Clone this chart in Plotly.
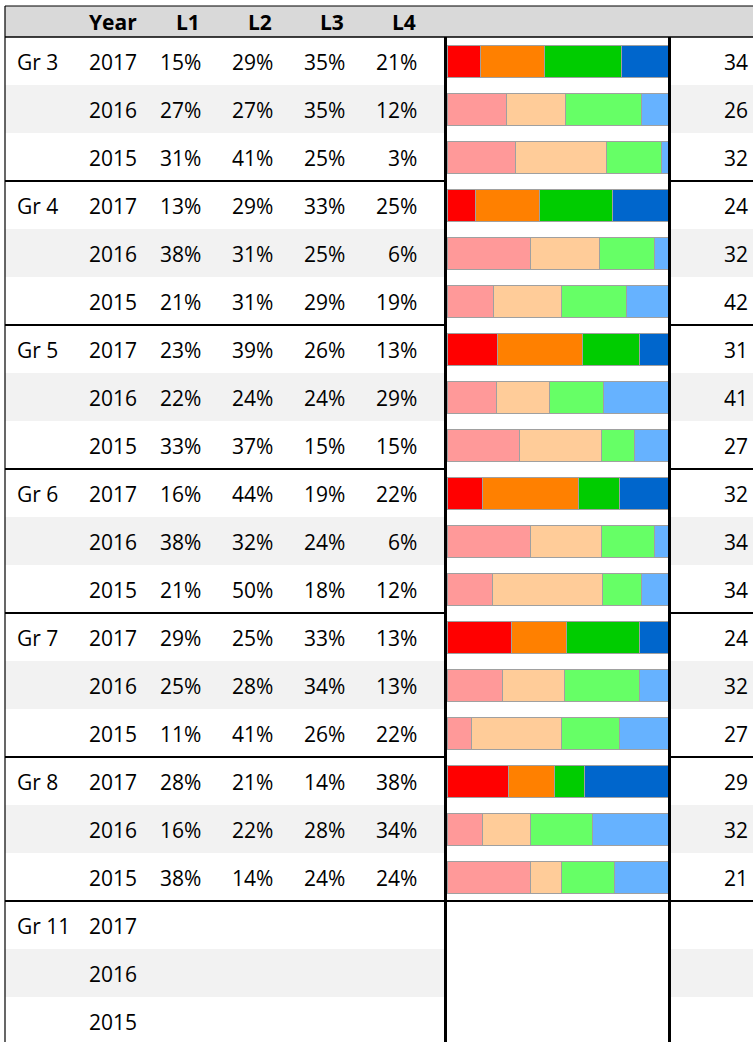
import plotly.graph_objects as go

# ---------------- data ----------------
groups = ["Gr 3", "Gr 4", "Gr 5", "Gr 6", "Gr 7", "Gr 8", "Gr 11"]
years = ["2017", "2016", "2015"]
levels = ["L1", "L2", "L3", "L4"]

L1 = [15, 27, 31, 13, 38, 21, 23, 22, 33, 16, 38, 21, 29, 25, 11, 28, 16, 38, None, None, None]
L2 = [29, 27, 41, 29, 31, 31, 39, 24, 37, 44, 32, 50, 25, 28, 41, 21, 22, 14, None, None, None]
L3 = [35, 35, 25, 33, 25, 29, 26, 24, 15, 19, 24, 18, 33, 34, 26, 14, 28, 24, None, None, None]
L4 = [21, 12, 3, 25, 6, 19, 13, 29, 15, 22, 6, 12, 13, 13, 22, 38, 34, 24, None, None, None]
counts = [34, 26, 32, 24, 32, 42, 31, 41, 27, 32, 34, 34, 24, 32, 27, 29, 32, 21, None, None, None]

bright = ["#FF0000", "#FF8000", "#00CC00", "#0066CC"]
pale = ["#FF9999", "#FFCC99", "#66FF66", "#66B2FF"]

# ---------------- geometry (pixels) ----------------
W, H = 753, 1042
HEAD_TOP, HEAD_BOT = 6, 37
ROW_H = 48
COL_L, COL_R = 445, 669
BAR_L, BAR_R = 447, 668
FONT = "Open Sans"
FS = 21
FS_HEAD = 21


def X(px):
    return px / W


def Y(py):
    return 1 - py / H


n_rows = len(groups) * len(years)
row_center = [HEAD_BOT + ROW_H * i + ROW_H / 2 for i in range(n_rows)]
row_idx = list(range(n_rows))

series = [L1, L2, L3, L4]
totals = [sum(s[i] for s in series) if series[0][i] is not None else None for i in row_idx]

fig = go.Figure()
for k, vals in enumerate(series):
    colors = [bright[k] if i % 3 == 0 else pale[k] for i in row_idx]
    xs = [vals[i] / totals[i] * 100 if vals[i] is not None else None for i in row_idx]
    fig.add_trace(go.Bar(
        x=xs, y=row_idx, orientation="h", name=levels[k],
        marker=dict(color=colors, line=dict(color="#A0A0A0", width=1)),
        width=2 / 3, hoverinfo="skip", showlegend=False,
    ))

shapes = []
# header band
shapes.append(dict(type="rect", xref="paper", yref="paper", x0=X(5), x1=X(W), y0=Y(HEAD_BOT), y1=Y(HEAD_TOP),
                   fillcolor="#D9D9D9", line=dict(width=0), layer="below"))
# row banding (2016 rows)
for i in row_idx:
    if i % 3 == 1:
        top = HEAD_BOT + ROW_H * i
        shapes.append(dict(type="rect", xref="paper", yref="paper", x0=X(5), x1=X(W), y0=Y(top + ROW_H), y1=Y(top),
                           fillcolor="#F2F2F2", line=dict(width=0), layer="below"))
# white bar column
shapes.append(dict(type="rect", xref="paper", yref="paper", x0=X(COL_L), x1=X(COL_R), y0=0, y1=Y(HEAD_BOT),
                   fillcolor="#FFFFFF", line=dict(width=0), layer="below"))
# header lines
shapes.append(dict(type="line", xref="paper", yref="paper", x0=X(5), x1=X(W), y0=Y(HEAD_TOP), y1=Y(HEAD_TOP),
                   line=dict(color="#000", width=1.2), layer="above"))
shapes.append(dict(type="line", xref="paper", yref="paper", x0=X(5), x1=X(W), y0=Y(HEAD_BOT), y1=Y(HEAD_BOT),
                   line=dict(color="#000", width=1.5), layer="above"))
# group separators
for g in range(1, len(groups)):
    yy = HEAD_BOT + ROW_H * 3 * g
    if g == len(groups) - 1:
        segs = [(5, W)]
    else:
        segs = [(5, COL_L), (COL_R, W)]
    for a, b in segs:
        shapes.append(dict(type="line", xref="paper", yref="paper", x0=X(a), x1=X(b), y0=Y(yy), y1=Y(yy),
                           line=dict(color="#000", width=2), layer="above"))
# vertical lines
shapes.append(dict(type="line", xref="paper", yref="paper", x0=X(5), x1=X(5), y0=0, y1=Y(HEAD_TOP),
                   line=dict(color="#000", width=1.2), layer="above"))
for xx in (COL_L + 0.5, COL_R + 0.5):
    shapes.append(dict(type="line", xref="paper", yref="paper", x0=X(xx), x1=X(xx), y0=0, y1=Y(HEAD_BOT),
                       line=dict(color="#000", width=3), layer="above"))

annotations = []


def txt(s, px, py, anchor="right", bold=False, size=FS):
    annotations.append(dict(
        text=f"<b>{s}</b>" if bold else s, xref="paper", yref="paper", x=X(px), y=Y(py),
        xanchor=anchor, yanchor="middle", showarrow=False,
        font=dict(family=FONT, size=size, color="#000"), borderpad=0,
    ))


head_y = (HEAD_TOP + HEAD_BOT) / 2 + 1
txt("Year", 138, head_y, bold=True, size=FS_HEAD)
col_right = [202, 274, 346, 418]
for k, lv in enumerate(levels):
    txt(lv, col_right[k] - 1, head_y, bold=True, size=FS_HEAD)

for i in row_idx:
    cy = row_center[i] + 1
    if i % 3 == 0:
        txt(groups[i // 3], 16, cy, anchor="left")
    txt(years[i % 3], 138, cy)
    for k, vals in enumerate(series):
        if vals[i] is not None:
            txt(f"{vals[i]}%", col_right[k], cy)
    if counts[i] is not None:
        txt(str(counts[i]), 749, cy)

# y axis: row index -> pixel center = 61 + 48*i
y_top = (0 - row_center[0]) / ROW_H
y_bot = (H - row_center[0]) / ROW_H

fig.update_layout(
    width=W, height=H, margin=dict(l=0, r=0, t=0, b=0),
    paper_bgcolor="#FFFFFF", plot_bgcolor="#FFFFFF",
    barmode="stack", bargap=0,
    xaxis=dict(domain=[X(BAR_L), X(BAR_R)], range=[0, 100], visible=False, fixedrange=True),
    yaxis=dict(domain=[0, 1], range=[y_bot, y_top], visible=False, fixedrange=True),
    shapes=shapes, annotations=annotations,
)

fig.write_html(
    "out.html",
    config={"displayModeBar": False, "staticPlot": True},
    post_script="document.body.style.margin='0';document.body.style.padding='0';document.body.style.overflow='hidden';",
)
